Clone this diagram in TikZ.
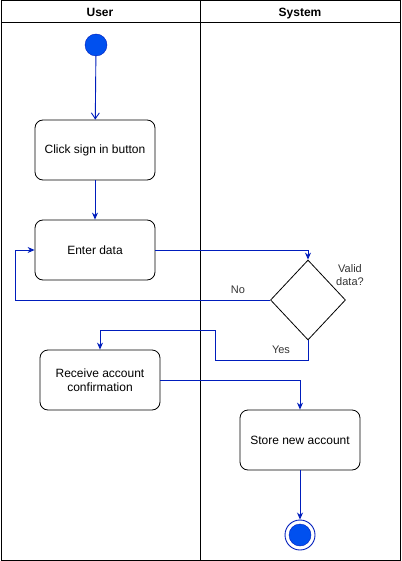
\documentclass[tikz,border=0pt]{standalone}
\usepackage{fontspec}
\setmainfont{Liberation Sans}
\usetikzlibrary{arrows.meta,shapes.geometric}
\definecolor{fillblue}{HTML}{0050EF}
\definecolor{strokeblue}{HTML}{001DBC}
\begin{document}
\begin{tikzpicture}[x=1pt,y=-1pt,
  lane/.style={draw=black,line width=1pt},
  act/.style={draw=black,rounded corners=8pt,minimum width=120pt,minimum height=60pt,align=center,font=\fontsize{12}{14}\selectfont,line width=0.8pt,inner sep=2pt},
  flow/.style={draw=strokeblue,line width=0.9pt,-{Stealth[length=7pt,width=6pt]}},
  openflow/.style={draw=strokeblue,line width=0.9pt,-{Straight Barb[length=6pt,width=8pt]}},
  lbl/.style={font=\fontsize{11}{13}\selectfont,text=black!80,align=center},
  head/.style={font=\bfseries\fontsize{12}{14}\selectfont,anchor=base}]
\useasboundingbox (0,0) rectangle (401,561);
% swimlanes
\draw[lane] (1,1) rectangle (200,560);
\draw[lane] (200,1) rectangle (400,560);
\draw[lane] (1,23) -- (400,23);
\node[head] (hu) at (100,16.5) {User};
\node[head] (hs) at (300,16.5) {System};
% nodes
\node[circle,fill=fillblue,draw=strokeblue,minimum size=22pt,inner sep=0pt] (start) at (96,45) {};
\node[act] (click) at (95,150) {Click sign in button};
\node[act] (enter) at (95,250) {Enter data};
\node[diamond,draw=black,line width=0.8pt,minimum width=75pt,minimum height=80pt,inner sep=0pt,aspect=0.94] (dec) at (308,300) {};
\node[lbl] (valid) at (350,275) {Valid\\data?};
\node[act] (recv) at (100,380) {Receive account\\confirmation};
\node[act] (store) at (300,440) {Store new account};
\node[circle,draw=strokeblue,line width=0.9pt,minimum size=30pt,inner sep=0pt] (endo) at (300,535) {};
\node[circle,fill=fillblue,draw=strokeblue,minimum size=22pt,inner sep=0pt] (endi) at (300,535) {};
% connectors
\draw[openflow] (start) -- (click);
\draw[flow] (click) -- (enter);
\draw[flow] (enter.east) -| (dec.north);
\coordinate (n1) at (15,300);
\draw[flow] (dec.west) -- (n1) |- (enter.west);
\node[lbl] (no) at (238,290) {No};
\coordinate (y1) at (308,360);
\coordinate (y2) at (215,360);
\coordinate (y3) at (215,330);
\draw[flow] (dec.south) -- (y1) -- (y2) -- (y3) -| (recv.north);
\node[lbl] (yes) at (281,350) {Yes};
\draw[flow] (recv.east) -| (store.north);
\draw[flow] (store) -- (endo);
\end{tikzpicture}
\end{document}
